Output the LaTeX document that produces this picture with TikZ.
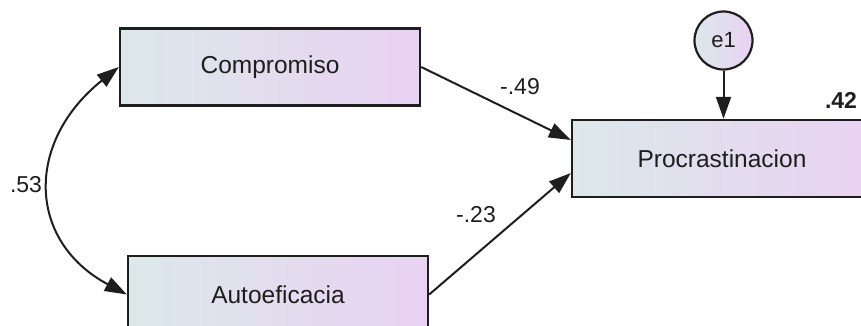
\documentclass[tikz,border=0pt]{standalone}
\usepackage{fontspec}
\setmainfont{Liberation Sans}
\usetikzlibrary{arrows.meta}
\definecolor{boxleft}{HTML}{DCE8E9}
\definecolor{boxright}{HTML}{E9D2F3}
\definecolor{ink}{HTML}{1E1E1E}
\tikzset{
  tip/.tip={Triangle[length=22pt,width=15pt]},
  varbox/.style={draw=ink, line width=2.4pt, minimum width=300pt, minimum height=77pt,
    inner sep=0pt, left color=boxleft, right color=boxright,
    font=\fontsize{24.5}{28}\selectfont, text=ink},
  errcirc/.style={circle, draw=ink, line width=2.2pt, minimum size=58pt, inner sep=0pt,
    left color=boxleft, right color=boxright, font=\fontsize{22}{25}\selectfont, text=ink},
  regpath/.style={draw=ink, line width=2pt, -tip},
  covpath/.style={draw=ink, line width=2pt, tip-tip},
  coef/.style={font=\fontsize{23}{26}\selectfont, text=ink, inner sep=0pt},
}
\begin{document}
\begin{tikzpicture}[x=1pt, y=-1pt]
  \useasboundingbox (0,0) rectangle (861,326);
  % observed variables
  \node[varbox] (C) at (270,67) {Compromiso};
  \node[varbox] (A) at (278,294.5) {Autoeficacia};
  \node[varbox] (P) at (722,158.5) {Procrastinacion};
  % residual
  \node[errcirc] (e) at (723.5,40.5) {e1};
  % entry points on the dependent variable
  \coordinate (Pin1) at ([yshift=18.5pt]P.west);
  \coordinate (Pin2) at ([yshift=-14.5pt]P.west);
  % regression paths
  \draw[regpath] (C.east) -- (Pin1);
  \draw[regpath] (A.east) -- (Pin2);
  \draw[regpath] (e.south) -- (e.south |- P.north);
  % covariance
  \draw[covpath] (C.west) .. controls (25,142) and (27,241) .. (A.west);
  % estimates
  \node[coef] (l53) at (26,185) {.53};
  \node[coef] (l49) at (520,87) {-.49};
  \node[coef] (l23) at (476,215) {-.23};
  \node[coef, font=\fontsize{23}{26}\selectfont\bfseries] (l42) at (841,100) {.42};
\end{tikzpicture}
\end{document}
